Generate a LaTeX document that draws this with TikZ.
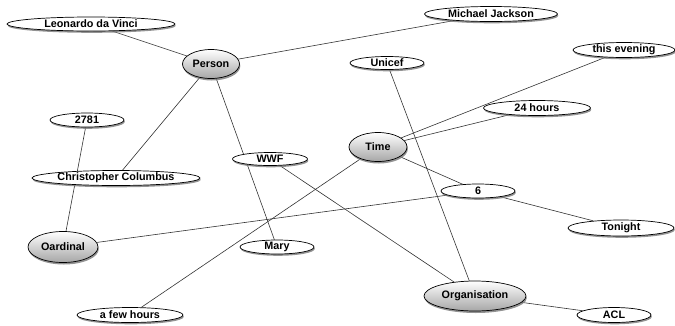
\documentclass[tikz,border=0pt]{standalone}
\usepackage{fontspec}
\setmainfont{Liberation Sans}
\usetikzlibrary{shapes.geometric,shadows,backgrounds}

\begin{document}
\begin{tikzpicture}[x=1pt,y=-1pt,font=\fontsize{10.8}{13}\selectfont\bfseries,
  concept/.style={ellipse,draw,line width=0.7pt,fill=white,inner sep=0pt,minimum height=14pt,
    drop shadow={shadow xshift=0.8pt,shadow yshift=-1.8pt,opacity=0.85}},
  category/.style={ellipse,draw,line width=0.7pt,top color=white,bottom color=black!35,inner sep=0pt,
    minimum height=29pt,drop shadow={shadow xshift=0.8pt,shadow yshift=-2pt,opacity=0.85}},
  link/.style={draw=black!80,line width=0.6pt}]
  \useasboundingbox (0,0) rectangle (675,325);
  % categories
  \node[category,minimum width=57pt] (person) at (211,64) {Person};
  \node[category,minimum width=58pt] (time) at (378,147) {Time};
  \node[category,minimum width=70pt,minimum height=31pt] (oardinal) at (63,247) {Oardinal};
  \node[category,minimum width=102pt,minimum height=30pt] (organisation) at (475,296) {Organisation};
  % concepts
  \node[concept,minimum width=168pt] (leonardo) at (91,24) {Leonardo da Vinci};
  \node[concept,minimum width=133pt,minimum height=15pt] (michael) at (491,14) {Michael Jackson};
  \node[concept,minimum width=102pt,minimum height=15pt] (evening) at (624,50) {this evening};
  \node[concept,minimum width=74pt,minimum height=13pt] (unicef) at (387,63) {Unicef};
  \node[concept,minimum width=107pt,minimum height=15pt] (hours24) at (537,108) {24 hours};
  \node[concept,minimum width=74pt] (n2781) at (87,120) {2781};
  \node[concept,minimum width=75pt,minimum height=13pt] (wwf) at (270,159) {WWF};
  \node[concept,minimum width=168pt,minimum height=15pt] (columbus) at (116,178) {Christopher Columbus};
  \node[concept,minimum width=74pt] (six) at (478,191) {6};
  \node[concept,minimum width=74pt] (mary) at (277,247) {Mary};
  \node[concept,minimum width=106pt,minimum height=16pt] (tonight) at (621,228) {Tonight};
  \node[concept,minimum width=106pt,minimum height=15pt] (fewhours) at (130,315) {a few hours};
  \node[concept,minimum width=74pt,minimum height=15pt] (acl) at (614,315) {ACL};
  % links
  \begin{scope}[on background layer]
    \draw[link] (person) -- (leonardo);
    \draw[link] (person) -- (michael);
    \draw[link] (person) -- (columbus);
    \draw[link] (person) -- (mary);
    \draw[link] (oardinal) -- (n2781);
    \draw[link] (oardinal) -- (six);
    \draw[link] (time) -- (evening);
    \draw[link] (time) -- (hours24);
    \draw[link] (time) -- (six);
    \draw[link] (time) -- (fewhours);
    \draw[link] (six) -- (tonight);
    \draw[link] (organisation) -- (unicef);
    \draw[link] (organisation) -- (wwf);
    \draw[link] (organisation) -- (acl);
  \end{scope}
\end{tikzpicture}
\end{document}
